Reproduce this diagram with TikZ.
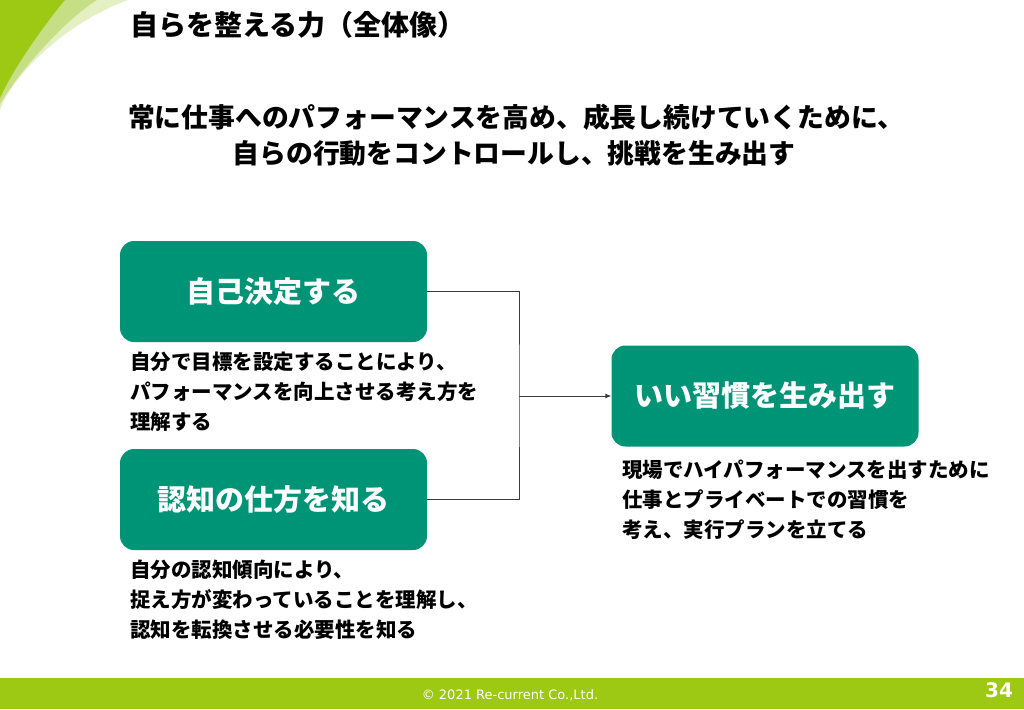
\documentclass[tikz,border=0pt]{standalone}
\usepackage{fontspec}
\setmainfont{Noto Sans CJK JP}
\newfontfamily\footfont{DejaVu Sans}
\usetikzlibrary{arrows.meta}
\definecolor{boxgreen}{RGB}{0,148,118}
\definecolor{limegreen}{RGB}{157,200,20}
\definecolor{midlime}{RGB}{198,223,132}
\definecolor{lightlime}{RGB}{228,240,196}
\definecolor{linegray}{RGB}{60,60,60}
\begin{document}
\begin{tikzpicture}[x=1pt,y=-1pt,
  greenbox/.style={draw=none, fill=boxgreen, rounded corners=14pt, minimum width=307pt, minimum height=101pt, inner sep=0pt, text=white, font={\fontsize{29}{34}\selectfont\bfseries}},
  desc/.style={anchor=north west, inner sep=0pt, align=left, text=black, font={\fontsize{20.5}{30}\selectfont\bfseries}},
  conn/.style={draw=linegray, line width=0.9pt},
  arr/.style={conn, -{Latex[length=6pt,width=5pt]}}
]
\useasboundingbox (0,0) rectangle (1024,709);
\fill[white] (0,0) rectangle (1024,709);
% corner decoration
\fill[lightlime] (0,0) -- (128,0) .. controls (60,25) and (10,80) .. (0,110) -- cycle;
\fill[midlime] (0,0) -- (97,0) .. controls (65,20) and (20,70) .. (0,104) -- cycle;
\fill[limegreen] (0,0) -- (65,0) .. controls (48,20) and (15,65) .. (0,98) -- cycle;
% footer bar
\fill[limegreen] (0,678) rectangle (1024,709);
\node[text=white, font={\fontsize{13}{15}\selectfont\footfont}] (copy) at (510,695) {© 2021 Re-current Co.,Ltd.};
\node[text=white, font={\fontsize{20}{22}\selectfont\footfont\bfseries}] (page) at (999,690) {34};
% title
\node[anchor=west, inner sep=0pt, font={\fontsize{28}{32}\selectfont\bfseries}] (title) at (130,25) {自らを整える力（全体像）};
\node[inner sep=0pt, font={\fontsize{26.8}{36}\selectfont\bfseries}] (sub1) at (516,117) {常に仕事へのパフォーマンスを高め、成長し続けていくために、};
\node[inner sep=0pt, font={\fontsize{26.8}{36}\selectfont\bfseries}] (sub2) at (514,153) {自らの行動をコントロールし、挑戦を生み出す};
% boxes
\node[greenbox] (b1) at (273.5,291.5) {自己決定する};
\node[greenbox] (b2) at (273.5,499.5) {認知の仕方を知る};
\node[greenbox] (b3) at (765,396) {いい習慣を生み出す};
% descriptions
\node[desc] (d1) at (130,352) {自分で目標を設定することにより、\\パフォーマンスを向上させる考え方を\\理解する};
\node[desc] (d2) at (130,560) {自分の認知傾向により、\\捉え方が変わっていることを理解し、\\認知を転換させる必要性を知る};
\node[desc] (d3) at (622,460) {現場でハイパフォーマンスを出すために\\仕事とプライベートでの習慣を\\考え、実行プランを立てる};
% connectors
\coordinate (j) at (519,396);
\draw[conn] (b1.east) -| (j) |- (b2.east);
\draw[arr] (j) -- (b3.west);
\end{tikzpicture}
\end{document}
